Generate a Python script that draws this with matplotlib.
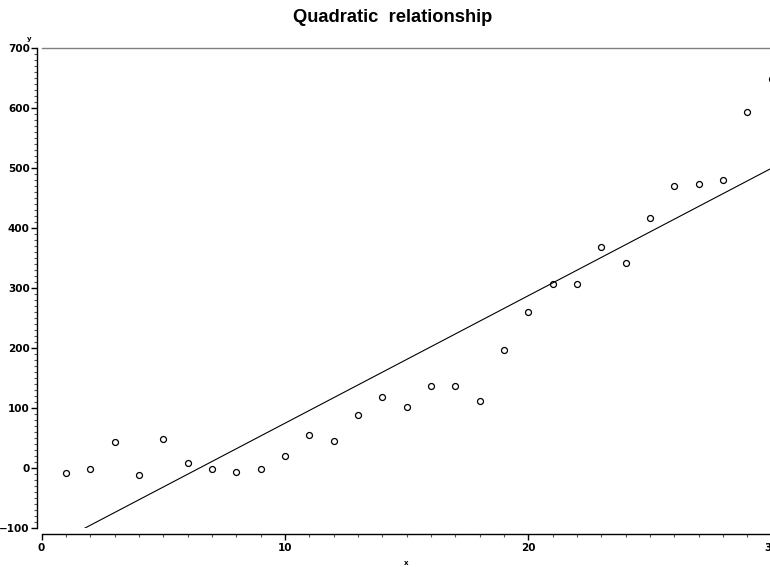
import numpy as np
import matplotlib
matplotlib.use("Agg")
import matplotlib.pyplot as plt

# data
xs = [1, 2, 3, 4, 5, 6, 7, 8, 9, 10,
      11, 12, 13, 14, 15, 16, 17, 18, 19, 20,
      21, 22, 23, 24, 25, 26, 27, 28, 29, 30]
ys = [-9, -1, 43, -12, 48, 9, -1, -7, -2, 20,
      55, 45, 88, 118, 102, 137, 136, 111, 196, 260,
      307, 307, 368, 342, 417, 470, 474, 480, 593, 648]
xticks = [0, 10, 20, 30]
yticks = [-100, 0, 100, 200, 300, 400, 500, 600, 700]

tickfam = ['Liberation Sans Narrow', 'DejaVu Sans']

fig = plt.figure(figsize=(7.7, 5.67), dpi=100)
W, H = 770.0, 567.0
left, right = 41.5 / W, 771.5 / W
bottom, top = 1 - 528.0 / H, 1 - 48.0 / H
ax = fig.add_axes([left, bottom, right - left, top - bottom])

# simple linear fit, clipped by the axes at y = -100
slope, icpt = np.polyfit(xs, ys, 1)
fx = np.array([min(xs), max(xs)])
ax.plot(fx, slope * fx + icpt, color='black', lw=0.8, zorder=2)

ax.plot(xs, ys, 'o', mfc='none', mec='black', ms=4.3, mew=0.9, zorder=3, clip_on=False)

ax.set_xlim(0, 30)
ax.set_ylim(-100, 700)
ax.set_xticks(xticks)
ax.set_yticks(yticks)
ax.set_xticks(np.arange(0, 31, 1), minor=True)
ax.set_yticks(np.arange(-100, 701, 10), minor=True)

ax.spines['right'].set_visible(False)
ax.spines['top'].set_color('#808080')
ax.spines['top'].set_linewidth(1.0)
ax.spines['left'].set_position(('outward', 3))
ax.spines['bottom'].set_position(('outward', 4))
for s in ('left', 'bottom'):
    ax.spines[s].set_linewidth(1.0)
    ax.spines[s].set_color('black')

ax.tick_params(axis='both', which='major', direction='out', length=4, width=1, color='black')
ax.tick_params(axis='both', which='minor', direction='out', length=2, width=0.8, color='#555555')
ax.tick_params(axis='y', pad=1.5)
ax.tick_params(axis='x', pad=3)
for lab in ax.get_xticklabels() + ax.get_yticklabels():
    lab.set_fontfamily(tickfam)
    lab.set_fontweight('bold')
    lab.set_fontsize(7.5)

fig.text(392.5 / W, 1 - 18.0 / H, 'Quadratic  relationship', ha='center', va='center',
         fontsize=13.2, fontweight='bold', family=['Liberation Sans', 'DejaVu Sans'])
fig.text(29.0 / W, 1 - 42.0 / H, 'y', ha='center', va='bottom', fontsize=5, fontweight='bold')
fig.text(406.0 / W, 1 - 563.0 / H, 'x', ha='center', va='center', fontsize=5, fontweight='bold')

plt.savefig('out.png', format='png', dpi=100)
